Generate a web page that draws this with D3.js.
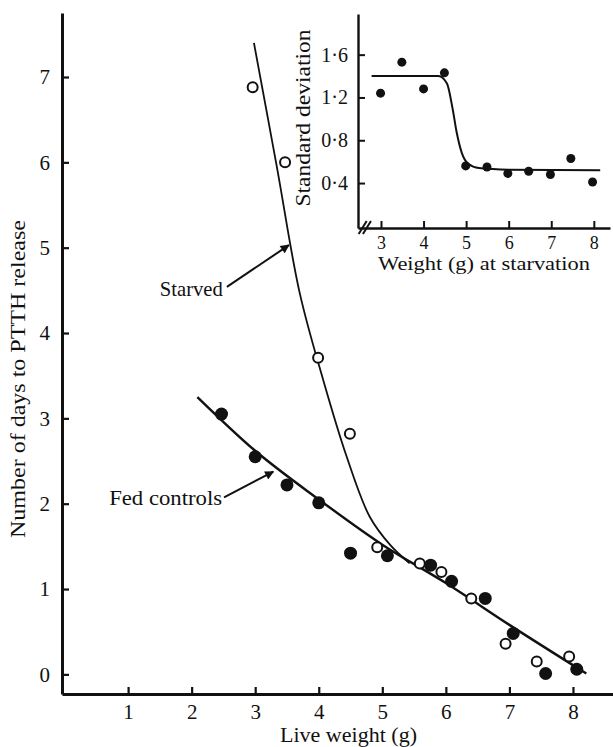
<!DOCTYPE html>
<html lang="en">
<head>
<meta charset="UTF-8">
<title>PTTH release</title>
<script src="https://cdn.jsdelivr.net/npm/d3@7"></script>
<style>
  body { margin: 0; background: #fff; }
  svg text { font-family: "Liberation Serif", "DejaVu Serif", serif; fill: #111; }
</style>
</head>
<body>
<svg id="chart" width="613" height="747"></svg>
<script>
// main plot: live weight (g) vs days to PTTH release
const fedWeight = [2.47, 3.0, 3.5, 4.0, 4.5, 5.08, 5.76, 6.09, 6.62, 7.06, 7.57, 8.06]
const fedDays   = [3.05, 2.55, 2.22, 2.01, 1.42, 1.39, 1.28, 1.09, 0.89, 0.48, 0.01, 0.06]
const starvedWeight = [2.96, 3.47, 3.99, 4.49, 4.92, 5.59, 5.93, 6.40, 6.94, 7.43, 7.94]
const starvedDays   = [6.88, 6.0, 3.71, 2.82, 1.49, 1.30, 1.20, 0.89, 0.36, 0.15, 0.21]

// fitted curves
const fedFitX = [2.09, 3.0, 4.0, 5.0, 6.0, 7.0, 8.21]
const fedFitY = [3.25, 2.62, 2.05, 1.52, 1.07, 0.58, 0.01]
const starvedFitX = [2.98, 3.34, 3.70, 4.07, 4.44, 4.80, 5.12, 5.43]
const starvedFitY = [7.40, 5.95, 4.47, 3.45, 2.55, 1.85, 1.52, 1.30]

const mainXTicks = [1, 2, 3, 4, 5, 6, 7, 8]
const mainYTicks = [0, 1, 2, 3, 4, 5, 6, 7]

// inset: weight at starvation vs standard deviation
const insetWeight = [2.99, 3.49, 4.0, 4.49, 4.99, 5.49, 5.98, 6.47, 6.98, 7.46, 7.97]
const insetSD     = [1.24, 1.53, 1.28, 1.43, 0.56, 0.55, 0.49, 0.51, 0.48, 0.63, 0.41]
const insetFitX = [2.78, 4.35, 4.55, 4.68, 4.78, 4.9, 5.05, 5.3, 6.0, 8.15]
const insetFitY = [1.40, 1.40, 1.33, 1.10, 0.87, 0.68, 0.58, 0.54, 0.525, 0.52]
const insetXTicks = [3, 4, 5, 6, 7, 8]
const insetYTicks = [0.4, 0.8, 1.2, 1.6]

const svg = d3.select('#chart')

let x = d3.scaleLinear().domain([-0.04, 8.63]).range([62, 613])
let y = d3.scaleLinear().domain([-0.23, 7.75]).range([694, 13])

svg.append('defs').append('marker')
  .attr('id', 'arrow')
  .attr('viewBox', '0 0 10 10')
  .attr('refX', 9).attr('refY', 5)
  .attr('markerWidth', 11).attr('markerHeight', 9)
  .attr('markerUnits', 'userSpaceOnUse')
  .attr('orient', 'auto')
  .append('path').attr('d', 'M0,0L10,5L0,10Z').attr('fill', '#111')

function label(txt, len, size) {
  return svg.append('text').attr('font-size', size || 21)
    .attr('textLength', len).attr('lengthAdjust', 'spacingAndGlyphs')
    .text(txt)
}

// axes
let xAxis = d3.axisBottom(x).tickValues(mainXTicks).tickSize(-7).tickPadding(10).tickSizeOuter(0)
let yAxis = d3.axisLeft(y).tickValues(mainYTicks).tickSize(-7).tickPadding(12).tickSizeOuter(0)

let gx = svg.append('g').attr('transform', 'translate(0,' + y.range()[0] + ')').call(xAxis)
let gy = svg.append('g').attr('transform', 'translate(' + x.range()[0] + ',0)').call(yAxis)
;[gx, gy].forEach(g => {
  g.select('.domain').attr('stroke', '#111').attr('stroke-width', 3)
  g.selectAll('.tick line').attr('stroke', '#111').attr('stroke-width', 2.2)
  g.selectAll('.tick text').attr('font-size', 21).attr('font-family', '"Liberation Serif", serif').attr('fill', '#111')
})

label('Live weight (g)', 137).attr('x', 280).attr('y', 742)
label('Number of days to PTTH release', 318)
  .attr('transform', 'translate(25,379) rotate(-90)')
  .attr('text-anchor', 'middle')

// fitted curves
let line = d3.line().curve(d3.curveMonotoneX)
svg.append('path')
  .attr('d', line(fedFitX.map((v, i) => [x(v), y(fedFitY[i])])))
  .attr('fill', 'none').attr('stroke', '#111').attr('stroke-width', 2.4)
svg.append('path')
  .attr('d', d3.line().curve(d3.curveCatmullRom.alpha(0.5))(starvedFitX.map((v, i) => [x(v), y(starvedFitY[i])])))
  .attr('fill', 'none').attr('stroke', '#111').attr('stroke-width', 1.8)

// points
svg.append('g').selectAll('circle')
  .data(starvedWeight)
  .enter().append('circle')
  .attr('cx', d => x(d))
  .attr('cy', (d, i) => y(starvedDays[i]))
  .attr('r', 5)
  .attr('fill', '#fff').attr('stroke', '#111').attr('stroke-width', 2)
svg.append('g').selectAll('circle')
  .data(fedWeight)
  .enter().append('circle')
  .attr('cx', d => x(d))
  .attr('cy', (d, i) => y(fedDays[i]))
  .attr('r', 6.5)
  .attr('fill', '#111')

// labels with arrows
const notes = [
  { text: 'Starved', len: 63, tx: 2.49, ty: 4.43, from: [2.555, 4.54], to: [3.53, 5.03] },
  { text: 'Fed controls', len: 113, tx: 2.48, ty: 1.98, from: [2.51, 2.075], to: [3.285, 2.375] }
]
notes.forEach(n => {
  label(n.text, n.len)
    .attr('x', x(n.tx)).attr('y', y(n.ty))
    .attr('text-anchor', 'end')
  svg.append('line')
    .attr('x1', x(n.from[0])).attr('y1', y(n.from[1]))
    .attr('x2', x(n.to[0])).attr('y2', y(n.to[1]))
    .attr('stroke', '#111').attr('stroke-width', 2)
    .attr('marker-end', 'url(#arrow)')
})

// inset
let xi = d3.scaleLinear().domain([2.46, 8.38]).range([358, 610])
let yi = d3.scaleLinear().domain([-0.02, 1.98]).range([228, 14])
let fmt = v => d3.format('.1f')(v).replace('.', '\u00b7')

let gxi = svg.append('g').attr('transform', 'translate(0,' + yi.range()[0] + ')')
  .call(d3.axisBottom(xi).tickValues(insetXTicks).tickFormat(d3.format('d')).tickSize(-7).tickPadding(8).tickSizeOuter(0))
let gyi = svg.append('g').attr('transform', 'translate(' + xi.range()[0] + ',0)')
  .call(d3.axisLeft(yi).tickValues(insetYTicks).tickFormat(fmt).tickSize(-7).tickPadding(10).tickSizeOuter(0))
gxi.selectAll('.tick text').attr('font-size', 18)
gyi.selectAll('.tick text').attr('font-size', 20)
;[gxi, gyi].forEach(g => {
  g.select('.domain').attr('stroke', '#111').attr('stroke-width', 2.4)
  g.selectAll('.tick line').attr('stroke', '#111').attr('stroke-width', 2)
  g.selectAll('.tick text').attr('font-family', '"Liberation Serif", serif').attr('fill', '#111')
})

// axis break marks
;[2.57, 2.67].forEach(v => {
  svg.append('line')
    .attr('x1', xi(v) - 4).attr('y1', yi(-0.02) + 6)
    .attr('x2', xi(v) + 4).attr('y2', yi(-0.02) - 7)
    .attr('stroke', '#111').attr('stroke-width', 2)
})

label('Weight (g) at starvation', 212, 18).attr('x', 378).attr('y', 270)
label('Standard deviation', 177)
  .attr('transform', 'translate(310,118) rotate(-90)')
  .attr('text-anchor', 'middle')

svg.append('path')
  .attr('d', line(insetFitX.map((v, i) => [xi(v), yi(insetFitY[i])])))
  .attr('fill', 'none').attr('stroke', '#111').attr('stroke-width', 2)
svg.append('g').selectAll('circle')
  .data(insetWeight)
  .enter().append('circle')
  .attr('cx', d => xi(d))
  .attr('cy', (d, i) => yi(insetSD[i]))
  .attr('r', 4.5)
  .attr('fill', '#111')
</script>
</body>
</html>
